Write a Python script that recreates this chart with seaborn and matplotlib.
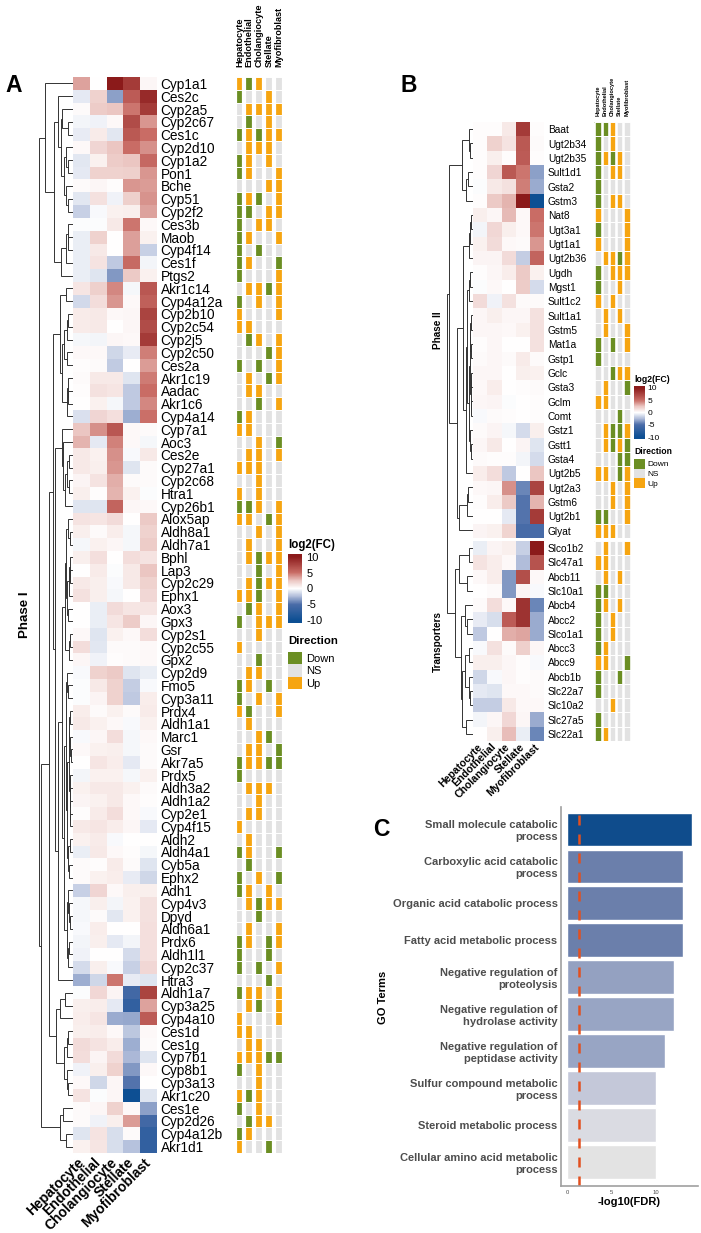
import matplotlib.pyplot as plt
import matplotlib.cm as cm
from matplotlib.colors import LinearSegmentedColormap, ListedColormap, Normalize
import numpy as np
import pandas as pd
import seaborn as sns

W, H = 701, 1233

cells = ['Hepatocyte', 'Endothelial', 'Cholangiocyte', 'Stellate', 'Myofibroblast']

genes_a = ['Cyp1a1', 'Ces2c', 'Cyp2a5', 'Cyp2c67', 'Ces1c', 'Cyp2d10', 'Cyp1a2', 'Pon1', 'Bche', 'Cyp51', 'Cyp2f2',
           'Ces3b', 'Maob', 'Cyp4f14', 'Ces1f', 'Ptgs2', 'Akr1c14', 'Cyp4a12a', 'Cyp2b10', 'Cyp2c54', 'Cyp2j5',
           'Cyp2c50', 'Ces2a', 'Akr1c19', 'Aadac', 'Akr1c6', 'Cyp4a14', 'Cyp7a1', 'Aoc3', 'Ces2e', 'Cyp27a1',
           'Cyp2c68', 'Htra1', 'Cyp26b1', 'Alox5ap', 'Aldh8a1', 'Aldh7a1', 'Bphl', 'Lap3', 'Cyp2c29', 'Ephx1',
           'Aox3', 'Gpx3', 'Cyp2s1', 'Cyp2c55', 'Gpx2', 'Cyp2d9', 'Fmo5', 'Cyp3a11', 'Prdx4', 'Aldh1a1', 'Marc1',
           'Gsr', 'Akr7a5', 'Prdx5', 'Aldh3a2', 'Aldh1a2', 'Cyp2e1', 'Cyp4f15', 'Aldh2', 'Aldh4a1', 'Cyb5a',
           'Ephx2', 'Adh1', 'Cyp4v3', 'Dpyd', 'Aldh6a1', 'Prdx6', 'Aldh1l1', 'Cyp2c37', 'Htra3', 'Aldh1a7',
           'Cyp3a25', 'Cyp4a10', 'Ces1d', 'Ces1g', 'Cyp7b1', 'Cyp8b1', 'Cyp3a13', 'Akr1c20', 'Ces1e', 'Cyp2d26',
           'Cyp4a12b', 'Akr1d1']

fc_a = [[3.5, 0, 10, 8, .4], [-.8, 2, -3.3, 6, 9], [.2, 2.2, 2.5, 4.8, 8], [-.4, -.5, .3, 7, 3.8],
        [-.7, .9, -.9, 6.2, 5], [.3, 1.8, 2.5, 5, 4], [-.9, .6, 2.2, 2.5, 5.3], [-.8, 2, 2, 2.1, 3.8],
        [.2, .4, .1, 3.8, 3.7], [-.9, 1.3, -.5, 2.1, 3.9], [-1.7, -.2, .6, .7, 3.5], [-.1, -.1, 1, 4.8, .3],
        [-.6, 2, 0, 3.6, .6], [-.6, 1, 0, 3.6, -1.7], [-.6, 1.2, -2, 5.2, -.4], [-.6, -1, -3.6, 2.3, .6],
        [1.1, 2.1, 4.3, -.3, 6.3], [-1.4, 1.5, 3.8, .3, 5.8], [.9, 1, .3, .4, 7.5], [.9, 1, 0, .4, 7],
        [-.3, -.4, .4, .3, 8], [.3, .3, -1.5, -.7, 4.5], [.1, .2, -1.9, 0, 3.7], [.2, 1, 1, -1, 4.6],
        [.1, 1.3, 1.1, -2, 5], [0, .6, -.3, -2, 4.3], [-1.1, 1.8, 1.4, -2.9, 4.9], [2.5, 4, 6.3, .3, .2],
        [3, -.8, 4.4, .3, -.3], [1, .6, 4, -.2, 1], [1, .7, 3.8, -1, .2], [.5, 1.2, 3.2, .2, .2],
        [.7, .1, 3, .6, -.1], [-1, -1, 5.5, .4, .3], [1.2, 1.1, 1.6, 0, 2.3], [.7, .2, .8, -.3, 2],
        [-.3, .6, .4, -.3, 2.2], [.7, 1.4, 0, 1.5, 1.2], [0, .9, -.1, 1, 2.5], [1, .7, -.2, 1, 2],
        [1.3, .7, -.3, 0, 1.7], [0, -.6, 1.6, 1.1, 1.1], [0, -.6, 1.1, 2.2, .4], [.3, -1, .6, .3, 1.5],
        [1.5, -.9, .2, .2, .3], [.4, -.5, .1, .2, .3], [-.2, 2, 2.3, -1, -.6], [-.1, 1, 2, -1.8, -.2],
        [-.1, .5, 2, -2, .8], [.8, .2, .6, .2, .9], [1, .6, .3, -.2, .6], [-.2, .4, 1.5, -.3, .3],
        [.3, .6, .7, -.3, .2], [0, 1.1, .8, -.8, .2], [-.4, .6, .6, -.3, .6], [.6, 1, 1, .6, .2],
        [.5, .6, 1, .3, .1], [.1, .9, 1.5, .3, -.2], [1, 1.1, .8, .4, -.8], [.6, .9, -.2, 0, 0],
        [-.6, 1, .3, .1, -.3], [.2, .1, .9, .2, -1], [.2, .6, .8, -.7, -1.5], [-1.7, 1.8, .3, .7, .7],
        [-.3, .7, -.4, .6, 1.3], [-.3, .2, -.9, .6, 1.3], [-.2, .8, 0, 0, 1.4], [-.4, .7, -.8, -.4, 1.4],
        [-.5, 0, 0, -1.3, 1.4], [-1.3, .7, -.2, -1.7, 1.7], [-2.9, -1.5, 4.8, -.7, -1], [-.1, 1.7, .5, -5.6, 7.5],
        [.7, .8, -.8, -7, 3.5], [.8, 1.1, -3, -3.1, 6], [.7, .8, .3, -2.1, .3], [1.6, 1.2, .8, -2.9, .2],
        [1.5, .5, 1.6, -2.6, -1], [-.5, .7, 2, -3.6, .3], [.3, -1.5, .4, -4.8, 0], [1.2, -.1, .4, -10, -1],
        [.2, .4, 2, .3, -3.3], [.2, -.5, .7, 3.7, -5.6], [-1, 1.2, -1.2, .2, -7], [.6, 1.1, -1.2, -2.2, -7]]

dir_a = ['UDUNN', 'DNNUN', 'NUUUU', 'NDNUN', 'DUDUU', 'NUUUN', 'DUNUN', 'DUNNU', 'NNNUU', 'DUDNU', 'DDNUU',
         'DNUUN', 'DUNNU', 'DNDNN', 'DUNND', 'DNNNU', 'NUUDU', 'DNUNU', 'UNNNU', 'UUNNN', 'NDUNU', 'NNNDU',
         'DNDNU', 'NUNDU', 'NUUNN', 'NNDNU', 'DUNNN', 'UUNNN', 'NNUND', 'NUUNU', 'UUUNN', 'NNUNN', 'UNUNN',
         'DDUNU', 'UUNDU', 'NNUNU', 'NUNNU', 'NUDUU', 'NNDNU', 'NUDUU', 'UUDNU', 'NDUNU', 'DNUUU', 'NNUNN',
         'UNNNN', 'NNDNN', 'NUUNN', 'DUNDN', 'DNUNU', 'UDNNU', 'NUNNN', 'NNUDN', 'NUUND', 'DUUDD', 'DNNNN',
         'NUUUN', 'NNUNN', 'NUUNN', 'UNNNN', 'NUNNN', 'DUNND', 'NDNNN', 'DNUND', 'DUNUN', 'NUDUU', 'NNDNN',
         'NUNNU', 'DUNDU', 'DNNDN', 'DNDNU', 'NNNDN', 'DUUNU', 'NUDNU', 'UNNNU', 'UUNNN', 'NUUNN', 'UUUDD',
         'DNUNN', 'NNUNN', 'UDUNN', 'DNUNN', 'NDUUN', 'DUNNN', 'UNNDN']

genes_b1 = ['Baat', 'Ugt2b34', 'Ugt2b35', 'Sult1d1', 'Gsta2', 'Gstm3', 'Nat8', 'Ugt3a1', 'Ugt1a1', 'Ugt2b36', 'Ugdh',
            'Mgst1', 'Sult1c2', 'Sult1a1', 'Gstm5', 'Mat1a', 'Gstp1', 'Gclc', 'Gsta3', 'Gclm', 'Comt', 'Gstz1',
            'Gstt1', 'Gsta4', 'Ugt2b5', 'Ugt2a3', 'Gstm6', 'Ugt2b1', 'Glyat']

fc_b1 = [[.1, .1, 1, 8, .1], [.1, 2, 1.2, 6.2, .2], [.1, .7, .1, 6, .1], [.1, 1.8, 6.2, 4.8, -3.3],
         [-.1, 1, 1.3, 4.5, -3], [.1, 2.3, 3, 10, -10], [.7, .4, 2.8, .3, 5], [-.4, 1.7, .7, .3, 4.8],
         [.6, 1.6, .3, .2, 3.8], [.5, .5, 1.6, -1.8, 5.5], [.1, .4, .8, 2.3, .6], [-.1, .3, 0, 2.2, -1.3],
         [1.6, -.5, 1.3, .2, .2], [.4, .7, .4, .4, 1.3], [.4, .4, .3, .6, 1.3], [.1, .4, 0, 0, 1.3],
         [.2, .4, .2, .9, .2], [.4, .4, 0, .7, .6], [.3, .8, 0, .1, .2], [.4, .5, -.1, 0, .1],
         [-.2, .2, .1, 0, .1], [.2, .5, -.3, -1.3, .7], [.4, 1, 0, .5, -1], [.2, .1, .1, -.4, -1.3],
         [.8, 1.5, -2, 0, 2.5], [.3, .4, 4, -4.2, 7.5], [.1, .8, 2.3, -4.8, 3], [0, 0, -.8, -4.8, 8],
         [.5, .6, 1.9, -5.2, -5.2]]

dir_b1 = ['DDUNN', 'DNUNN', 'DUDUN', 'DNUUN', 'DNNNN', 'DNUUN', 'UNNNU', 'DNNNU', 'UNNNU', 'NUUDU', 'DNUUU',
          'DNNUN', 'UNUNN', 'NUNUN', 'NUNNU', 'DNDNU', 'DNNNN', 'NNDUU', 'NUNND', 'UUNNN', 'NNNDN', 'NUDDU',
          'NUDUD', 'NNNDD', 'UUNDU', 'NNUNU', 'NNUNU', 'DDNNU', 'UUUNN']

genes_b2 = ['Slco1b2', 'Slc47a1', 'Abcb11', 'Slc10a1', 'Abcb4', 'Abcc2', 'Slco1a1', 'Abcc3', 'Abcc9', 'Abcb1b',
            'Slc22a7', 'Slc10a2', 'Slc27a5', 'Slc22a1']

fc_b2 = [[-.6, .5, .7, -1.7, 10], [1.2, .8, .3, -2.4, 6.5], [.3, .8, -3.6, 6.8, .3], [0, .2, -3.6, .5, -.2],
         [.2, 1.5, .3, 8.5, -4.2], [-.7, -1.2, 6, 8.5, -3], [-2, 0, 3.2, 3.4, -3], [-.2, 1.3, .2, 2.1, .4],
         [.7, .7, .4, .1, -.2], [-1.5, -.2, .4, .1, .2], [-.8, -1, .3, .3, .2], [-1.8, -1.8, 1, .3, .3],
         [-.4, .4, 1.7, .4, -3], [0, .7, 2.7, -.6, -4.2]]

dir_b2 = ['NUNNU', 'UUNNN', 'NUNUN', 'DDNNN', 'DUNUN', 'DNUNN', 'DNUNN', 'DUNNN', 'UUNND', 'DNNDN', 'DNNNN',
          'NNUNN', 'DNNNN', 'DUNNN']

go_terms = ['Small molecule catabolic\nprocess', 'Carboxylic acid catabolic\nprocess', 'Organic acid catabolic process',
            'Fatty acid metabolic process', 'Negative regulation of\nproteolysis',
            'Negative regulation of\nhydrolase activity', 'Negative regulation of\npeptidase activity',
            'Sulfur compound metabolic\nprocess', 'Steroid metabolic process',
            'Cellular amino acid metabolic\nprocess']
go_fdr = [14, 13, 13, 13, 12, 12, 11, 10, 10, 10]
go_colors = ['#0f4c8c', '#6b7fab', '#6b7fab', '#6b7fab', '#94a1c1', '#98a5c4', '#98a5c4', '#c4c8d9', '#dadbe2', '#e3e3e3']
fdr_cut = 1.3

# dendrograms: (height, upper, lower), L is one leaf, heights in px back from the heatmap edge
L = 0
tree_a = (33.5,
          (28, L, (19,
                   (15, L, (11.5, (10.5, L, (5, L, L)),
                            (8.5, (6.5, L, (4.5, L, L)), (6.5, L, (4.5, L, L))))),
                   (11.5, (6.5, (5, L, (4.5, L, L)), L), L))),
          (31.8,
           (23.5,
            (19.5,
             (12.5, (7, L, L), (11, (9, (5.5, (4.5, L, L), L), (6, L, L)), (6, (5, L, (4.5, L, L)), L))),
             (18,
              (10.5, L, (9.5, L, (7.5, (6, (3.5, L, L), (3.5, L, L)), L))),
              (14.5,
               (11,
                (7.5,
                 (6.5, (5, L, (3, L, L)), (5.5, (3.5, (2.8, L, (2.2, L, L)), L), (4.5, L, L))),
                 (4, (3, L, L), L)),
                (8.5,
                 (6.8, (5.5, L, (4.5, L, L)),
                  (5.5,
                   (4, (3.5, (2.5, L, L), (2.2, L, (2, L, L))), (3, L, (2.5, (2.2, L, L), (2.3, L, L)))),
                   (4.5, (3, L, L), (3.5, L, L)))),
                 (5.5, (4.5, L, (3.5, L, (3, L, L))), (4.5, (3.5, L, L), L)))),
               L))),
            (16.5,
             (12.5, (7.5, L, L), L),
             (8.5, (5.5, (5, L, L), L), (6, L, (5, L, L))))),
           (12.5, (9.5, L, L), (6.5, L, L))))

tree_b = (26,
          (24,
           (11, (3.7, L, (2.5, L, L)), (7, (5, L, L), L)),
           (16,
            (10,
             (4, (2.5, (2, L, L), L), L),
             (7, (5.5, (3.5, (3, L, L), L),
                  (3.5, (2.8, (2.5, (2, L, L), (1.8, L, L)), (2.2, (1.8, L, L), (1.5, L, L))),
                   (3, L, (2.2, L, L)))), L)),
            (13.5, (6, (4.5, L, L), L), L))),
          (18,
           (14, (4, L, L), (6, L, L)),
           (12,
            (8, L, (6, L, L)),
            (11, (8, (4, L, L), (4, L, (3, L, L))), (7, L, L)))))

fc_stops = [(-10.8, '#0d4f93'), (-10, '#0d4f93'), (-5, '#4a6ca8'), (-2.5, '#aebbd9'), (0, '#ffffff'),
            (2.5, '#ebc6c2'), (5, '#c96d66'), (10, '#8b1a1a'), (10.8, '#8b1a1a')]
fc_cmap = LinearSegmentedColormap.from_list('fc', [((v + 10.8) / 21.6, c) for v, c in fc_stops])
fc_norm = Normalize(-10.8, 10.8)
dir_names = ['Down', 'NS', 'Up']
dir_cmap = ListedColormap(['#6b8e23', '#e2e2e2', '#f6a511'])

sns.set_theme(style='white')
plt.rcParams['font.family'] = 'Liberation Sans'
plt.rcParams['text.color'] = 'black'
plt.rcParams['xtick.color'] = 'black'
plt.rcParams['ytick.color'] = 'black'
fig = plt.figure(figsize=(W / 100, H / 100), dpi=100)


def px_axes(x0, y0, x1, y1):
    return fig.add_axes([x0 / W, 1 - y1 / H, (x1 - x0) / W, (y1 - y0) / H])


def label(x, y, text, **kw):
    kw.setdefault('ha', 'left')
    kw.setdefault('va', 'center')
    fig.text(x / W, 1 - y / H, text, **kw)


def draw_heat(box, genes, values, size, bottom_size=None, bottom_pad=6):
    ax = px_axes(*box)
    df = pd.DataFrame(values, index=genes, columns=cells)
    sns.heatmap(df, ax=ax, cmap=fc_cmap, norm=fc_norm, cbar=False, yticklabels=True, xticklabels=bool(bottom_size))
    ax.yaxis.tick_right()
    ax.tick_params(axis='y', length=0, pad=2.5, labelsize=size, labelrotation=0)
    if bottom_size:
        ax.tick_params(axis='x', length=0, pad=bottom_pad)
        ax.set_xticklabels(cells, rotation=45, ha='right', va='center', rotation_mode='anchor',
                           fontsize=bottom_size, fontweight='bold')
    return ax


def draw_side(box, dirs, gap, top_size=None, pad=6):
    ax = px_axes(*box)
    codes = pd.DataFrame([[dir_names.index({'D': 'Down', 'N': 'NS', 'U': 'Up'}[c]) for c in row] for row in dirs],
                         columns=cells)
    sns.heatmap(codes, ax=ax, cmap=dir_cmap, vmin=0, vmax=2, cbar=False, yticklabels=False, xticklabels=bool(top_size))
    ax.hlines(np.arange(len(dirs) + 1), 0, len(cells), color='white', lw=0.7)
    ax.vlines(np.arange(len(cells) + 1), 0, len(dirs), color='white', lw=gap * 0.72)
    if top_size:
        ax.xaxis.tick_top()
        ax.tick_params(axis='x', length=0, pad=pad)
        ax.set_xticklabels(cells, rotation=90, ha='center', va='bottom', fontsize=top_size, fontweight='bold')
    return ax


def draw_tree(box, tree, centers, span, lw=0.7):
    ax = px_axes(*box)
    leaves = iter(centers)

    def walk(node):
        if node == L:
            return next(leaves), 0
        h, upper, lower = node
        y0, h0 = walk(upper)
        y1, h1 = walk(lower)
        ax.plot([h0, h, h, h1], [y0, y0, y1, y1], color='#333333', lw=lw, solid_joinstyle='miter')
        return (y0 + y1) / 2, h

    walk(tree)
    ax.set_xlim(span, 0)
    ax.set_ylim(centers[-1] + .5, 0)
    ax.axis('off')
    return ax


def draw_legend(bar_box, key_box, size, title_y, dir_y, pad):
    cax = px_axes(*bar_box)
    cb = fig.colorbar(cm.ScalarMappable(norm=fc_norm, cmap=fc_cmap), cax=cax, ticks=[-10, -5, 0, 5, 10])
    cb.outline.set_visible(False)
    cb.ax.set_yticklabels(['-10', '-5', '0', '5', '10'], fontsize=size)
    cb.ax.tick_params(axis='y', direction='in', color='white', width=0.8, length=(bar_box[2] - bar_box[0]) * 0.16,
                      left=True, right=True, pad=pad, labelcolor='black')
    label(bar_box[0], title_y, 'log2(FC)', fontsize=size + .3, fontweight='bold')
    label(bar_box[0], dir_y, 'Direction', fontsize=size + .2, fontweight='bold')
    kax = px_axes(*key_box)
    sns.heatmap(pd.DataFrame({'k': [0, 1, 2]}, index=dir_names), ax=kax, cmap=dir_cmap, vmin=0, vmax=2, cbar=False,
                xticklabels=False, yticklabels=True)
    kax.yaxis.tick_right()
    kax.tick_params(axis='y', length=0, pad=pad, labelsize=size, labelrotation=0)
    kax.set_ylabel('')


# panel A
draw_tree((29.5, 77, 72.5, 1153), tree_a, np.arange(len(genes_a)) + .5, 43)
draw_heat((73, 77, 157, 1153), genes_a, fc_a, 9.8, 10, 5.5)
draw_side((234.6, 77, 283.8, 1153), dir_a, 4.2, 6.6, pad=7)
draw_legend((288, 554, 302, 623), (288, 652, 302, 689), 8, 545, 641, 3)
label(25, 615, 'Phase I', rotation=90, ha='center', fontsize=9.6, fontweight='bold')
label(5, 85, 'A', fontsize=16.5, fontweight='bold')

# panel B
row_px = (538 - 122) / len(genes_b1)
gap_rows = (541 - 538) / row_px
centers_b = np.r_[np.arange(len(genes_b1)) + .5, np.arange(len(genes_b2)) + len(genes_b1) + gap_rows + .5]
draw_tree((440, 122, 473, 741), tree_b, centers_b, 33)
draw_heat((473, 122, 544.3, 538), genes_b1, fc_b1, 7.3)
draw_heat((473, 541, 544.3, 741), genes_b2, fc_b2, 7.3, 7.6, 3)
draw_side((594.4, 122, 630.6, 538), dir_b1, 2.64, 4.1, pad=4.3)
draw_side((594.4, 541, 630.6, 741), dir_b2, 2.64)
draw_legend((634, 386, 645, 439), (634, 459, 645, 488), 6, 379, 451, 2)
label(438, 330, 'Phase II', rotation=90, ha='center', fontsize=7.2, fontweight='bold')
label(438, 641, 'Transporters', rotation=90, ha='center', fontsize=7.2, fontweight='bold')
label(400, 86, 'B', fontsize=16.5, fontweight='bold')

# panel C
ax = px_axes(561, 807, 698, 1186)
go = pd.DataFrame({'term': go_terms, 'fdr': go_fdr})
sns.barplot(data=go, y='term', x='fdr', hue='term', palette=go_colors, legend=False, width=.9, saturation=1, ax=ax)
ax.axvline(fdr_cut, color='#e2501f', lw=1.8, dashes=(4, 3.6))
ax.set_xlim(-.7, 14.7)
ax.set_ylim(9.65, -.6)
ax.set_xticks([0, 5, 10])
ax.set_xlabel('')
ax.set_ylabel('')
ax.tick_params(axis='x', labelsize=4.2, colors='#4d4d4d', length=1.5, width=.5, pad=1.5)
ax.tick_params(axis='y', length=1.5, width=.5, color='#888888', pad=1)
ax.set_yticks(range(len(go_terms)))
ax.set_yticklabels(go_terms, fontsize=8, fontweight='bold', color='#4d4d4d', ha='right', linespacing=1.25)
sns.despine(ax=ax)
for side in ['left', 'bottom']:
    ax.spines[side].set_color('#a0a0a0')
    ax.spines[side].set_linewidth(1.2)
label(629, 1202, '-log10(FDR)', ha='center', fontsize=8, fontweight='bold')
label(383, 997, 'GO Terms', rotation=90, ha='center', fontsize=8, fontweight='bold')
label(373, 830, 'C', fontsize=16.5, fontweight='bold')

fig.savefig('out.png', dpi=100)
